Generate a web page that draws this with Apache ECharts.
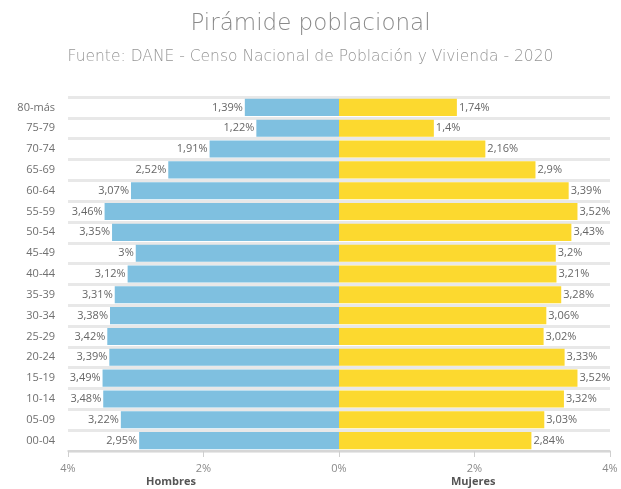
<!DOCTYPE html>
<html>
<head>
<meta charset="utf-8">
<script src="https://cdn.jsdelivr.net/npm/echarts@6/dist/echarts.min.js"></script>
<style>
  html, body {margin: 0; padding: 0; background: #fff;}
  #chart {width: 621px; height: 489px;}
</style>
</head>
<body>
<div id="chart"></div>
<script>
const categories = ["00-04", "05-09", "10-14", "15-19", "20-24", "25-29", "30-34", "35-39", "40-44",
  "45-49", "50-54", "55-59", "60-64", "65-69", "70-74", "75-79", "80-más"]
const hombres = [2.95, 3.22, 3.48, 3.49, 3.39, 3.42, 3.38, 3.31, 3.12, 3, 3.35, 3.46, 3.07, 2.52, 1.91, 1.22, 1.39]
const mujeres = [2.84, 3.03, 3.32, 3.52, 3.33, 3.02, 3.06, 3.28, 3.21, 3.2, 3.43, 3.52, 3.39, 2.9, 2.16, 1.4, 1.74]
const xTicks = [-4, -2, 0, 2, 4]

const fmt = (v) => String(Math.abs(Math.round(v * 100) / 100)).replace(".", ",") + "%"
const font = "'Open Sans', 'DejaVu Sans', sans-serif"

const chart = echarts.init(document.getElementById("chart"))
chart.setOption({
  animation: false,
  textStyle: {fontFamily: font},
  title: {
    text: "Pirámide poblacional",
    subtext: "Fuente: DANE - Censo Nacional de Población y Vivienda - 2020",
    left: "center",
    top: 8,
    itemGap: 13,
    textStyle: {fontFamily: "'DejaVu Sans', sans-serif", fontWeight: 200, fontSize: 23, color: "#8a8a8a"},
    subtextStyle: {fontFamily: "'DejaVu Sans', sans-serif", fontWeight: 200, fontSize: 15.5, color: "#959595"},
  },
  grid: {left: 68, right: 11, top: 97, bottom: 38},
  xAxis: {
    type: "value",
    min: xTicks[0],
    max: xTicks[xTicks.length - 1],
    interval: 2,
    axisLine: {show: true, lineStyle: {color: "#cfcfcf", width: 1.5}},
    axisTick: {show: true, length: 6, lineStyle: {color: "#cfcfcf"}},
    splitLine: {show: false},
    axisLabel: {color: "#8a8a8a", fontSize: 11, margin: 12, formatter: (v) => fmt(v)},
  },
  yAxis: {
    type: "category",
    data: categories,
    axisLine: {show: false},
    axisTick: {show: false},
    splitLine: {show: true, lineStyle: {color: "#e8e8e8", width: 3}},
    axisLabel: {color: "#6f6f6f", fontSize: 11, margin: 13},
  },
  graphic: [
    {type: "text", left: 146, top: 476, style: {text: "Hombres", font: "bold 11px " + font, fill: "#555"}},
    {type: "text", left: 451, top: 476, style: {text: "Mujeres", font: "bold 11px " + font, fill: "#555"}},
  ],
  series: [
    {
      name: "Hombres",
      type: "bar",
      stack: "total",
      barCategoryGap: "18%",
      data: hombres.map((v) => -v),
      itemStyle: {color: "#7fc0e0"},
      label: {show: true, position: "left", distance: 2, color: "#666", fontSize: 11, formatter: (p) => fmt(p.value)},
    },
    {
      name: "Mujeres",
      type: "bar",
      stack: "total",
      barCategoryGap: "18%",
      data: mujeres,
      itemStyle: {color: "#fcd92f"},
      label: {show: true, position: "right", distance: 2, color: "#666", fontSize: 11, formatter: (p) => fmt(p.value)},
    },
  ],
})
</script>
</body>
</html>
